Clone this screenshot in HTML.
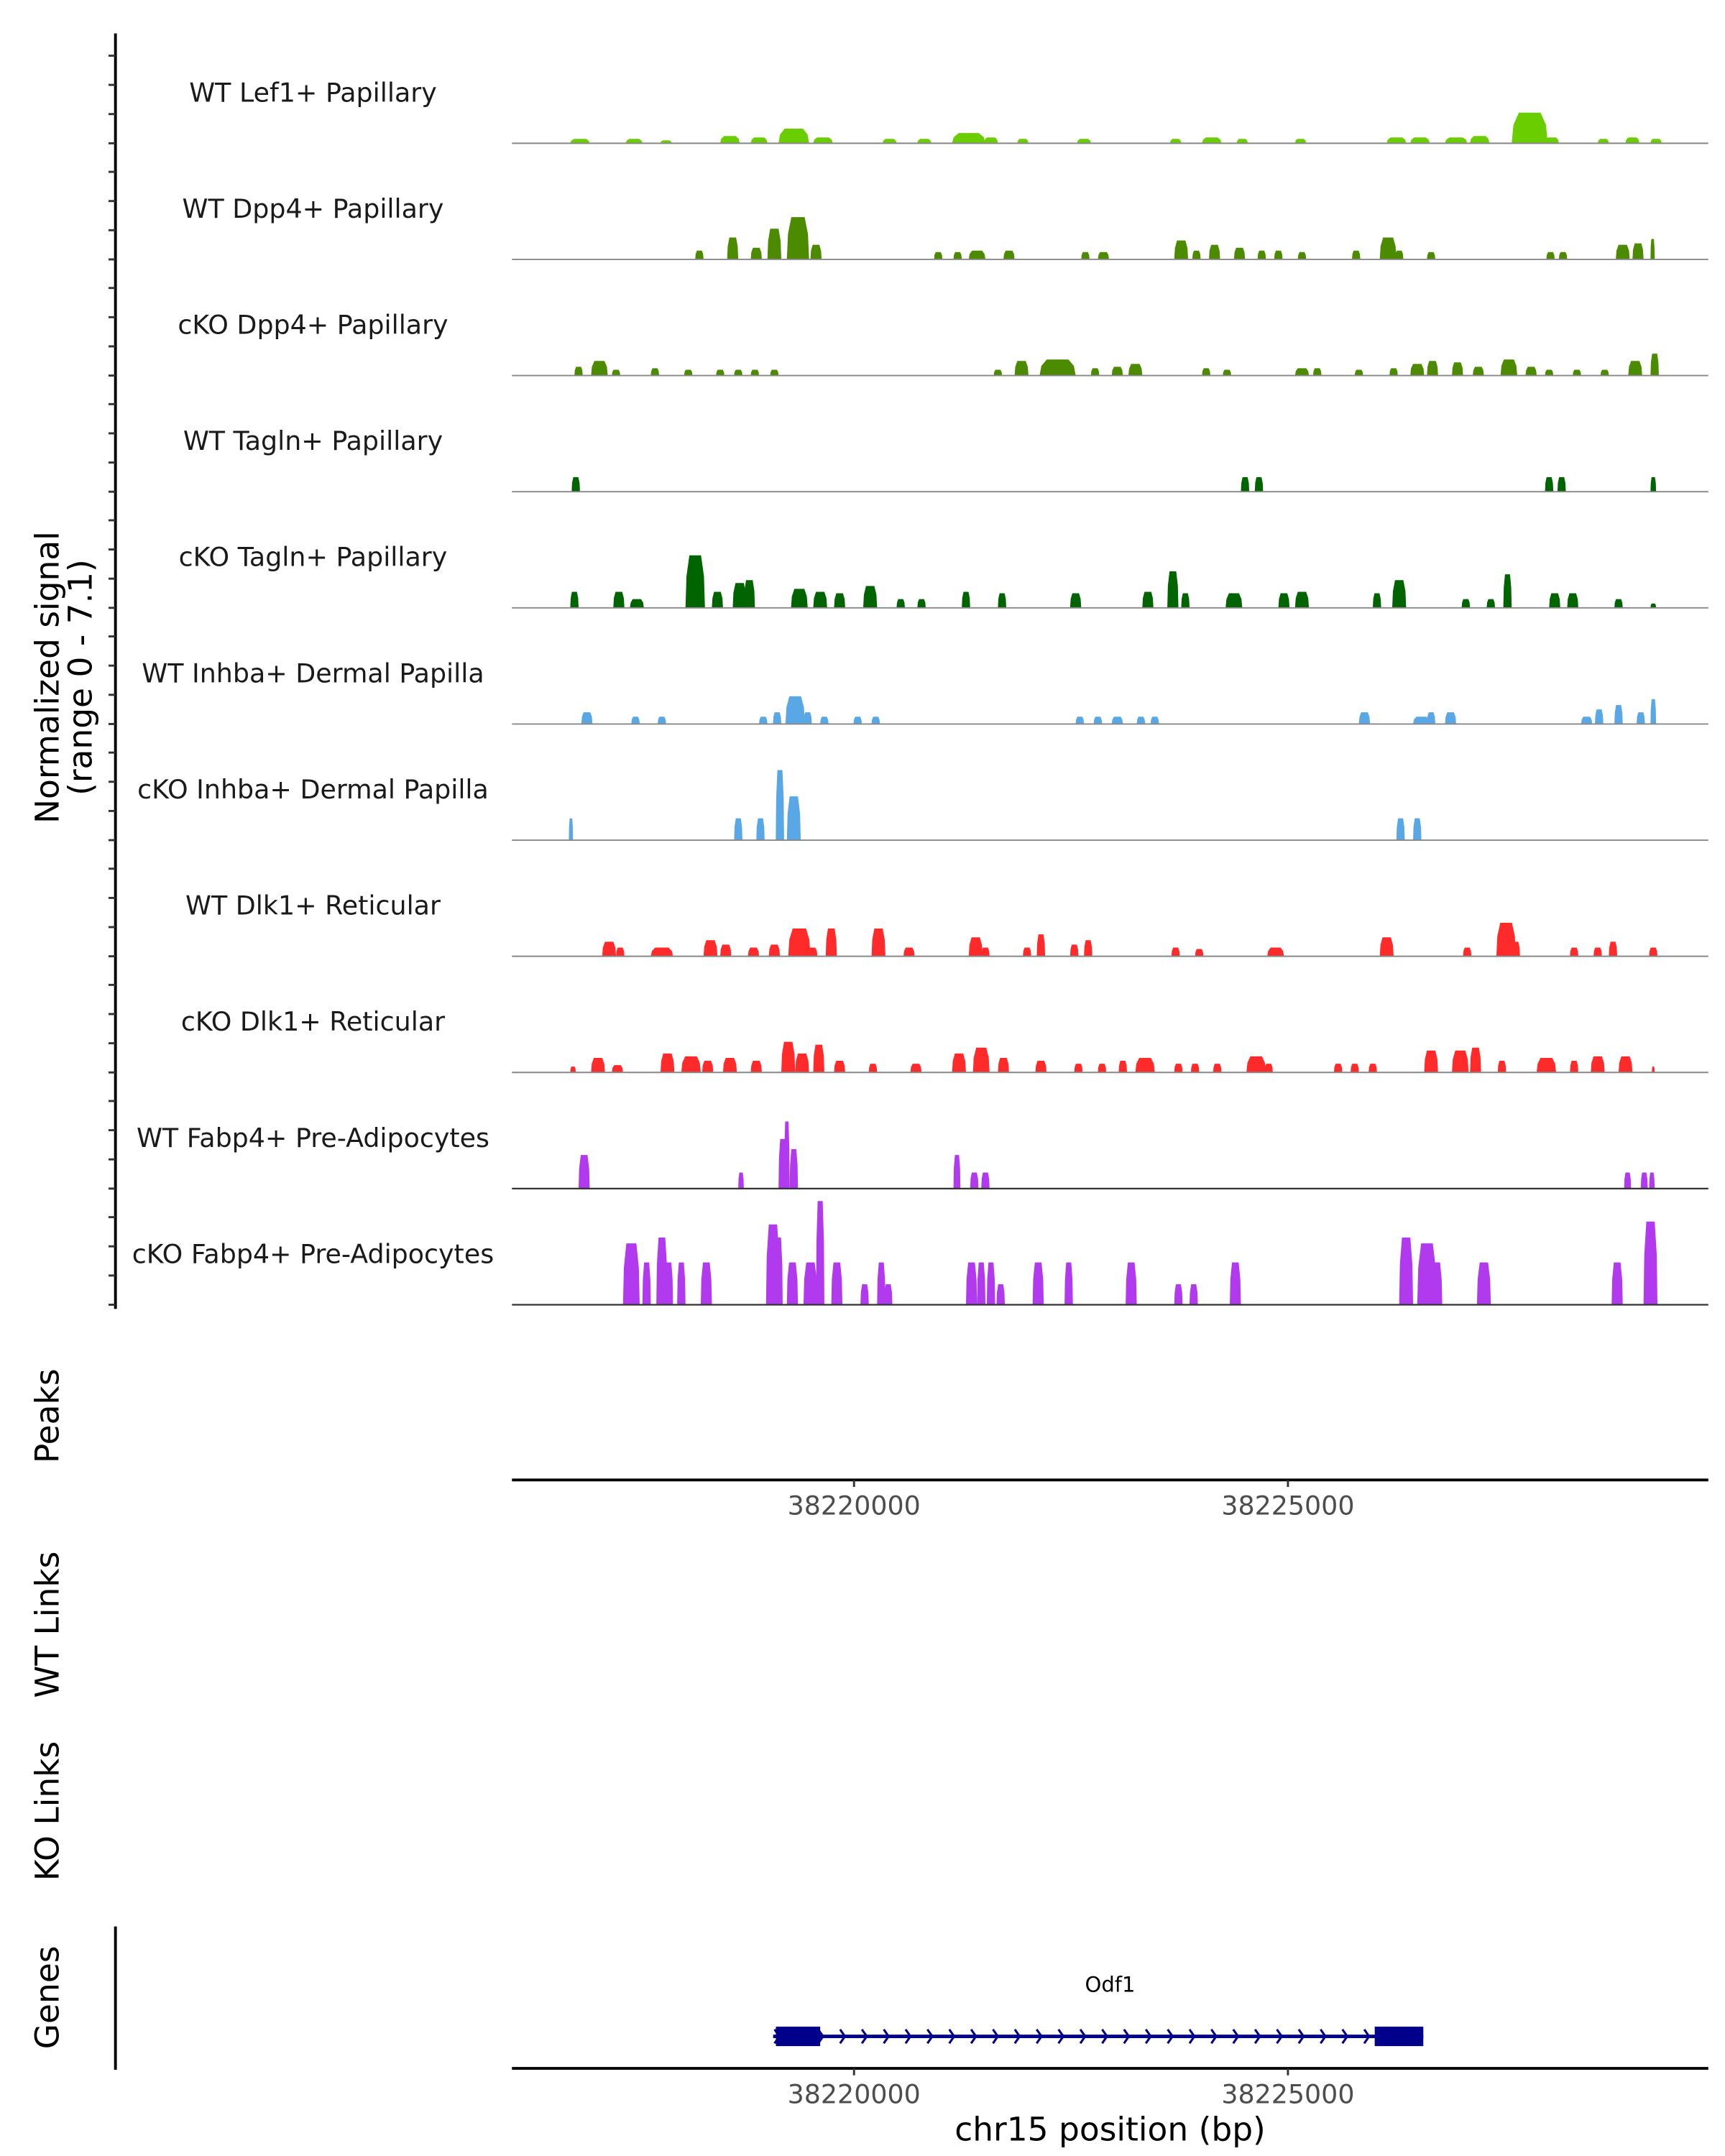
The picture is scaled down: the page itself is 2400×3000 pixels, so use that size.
<!DOCTYPE html>
<html><head><meta charset="utf-8">
<style>
html,body{margin:0;padding:0;background:#fff;}
svg{display:block;}
text{font-family:"DejaVu Sans","Liberation Sans",sans-serif;}
</style></head>
<body>
<svg id="chart" width="2400" height="3000" viewBox="0 0 1240 1550" preserveAspectRatio="none" xmlns="http://www.w3.org/2000/svg">
<rect x="0" y="0" width="1240" height="1550" fill="#fff"/>
<g id="tracks"></g>
<line x1="83" y1="24" x2="83" y2="941" stroke="#000" stroke-width="2"/>
<g id="yticks"></g>
<text transform="translate(42,487) rotate(-90)" text-anchor="middle" font-size="23.5" fill="#000">Normalized signal</text>
<text transform="translate(66,487) rotate(-90)" text-anchor="middle" font-size="23.5" fill="#000">(range 0 - 7.1)</text>
<text transform="translate(42,1018) rotate(-90)" text-anchor="middle" font-size="23.5" fill="#000">Peaks</text>
<text transform="translate(42,1168) rotate(-90)" text-anchor="middle" font-size="23.5" fill="#000">WT Links</text>
<text transform="translate(42,1302) rotate(-90)" text-anchor="middle" font-size="23.5" fill="#000">KO Links</text>
<text transform="translate(42,1436) rotate(-90)" text-anchor="middle" font-size="23.5" fill="#000">Genes</text>
<line x1="83" y1="1385" x2="83" y2="1488" stroke="#000" stroke-width="2"/>
<g id="axes"></g>
<g id="gene"></g>
<text x="798" y="1539" text-anchor="middle" font-size="23.5" fill="#000">chr15 position (bp)</text>
</svg>
<script>
const NS = "http://www.w3.org/2000/svg";
const regionStart = 38216058;
const regionEnd = 38229844;
const signalMax = 7.1;
const trackNames = ["WT Lef1+ Papillary","WT Dpp4+ Papillary","cKO Dpp4+ Papillary","WT Tagln+ Papillary","cKO Tagln+ Papillary","WT Inhba+ Dermal Papilla","cKO Inhba+ Dermal Papilla","WT Dlk1+ Reticular","cKO Dlk1+ Reticular","WT Fabp4+ Pre-Adipocytes","cKO Fabp4+ Pre-Adipocytes"];
const trackColors = ["#6ACD00","#4C8A00","#4C8A00","#006400","#006400","#5AA7E6","#5AA7E6","#FF2A2A","#FF2A2A","#B23AEE","#B23AEE"];
const xTicks = [38220000, 38225000];
const yTickValues = [0, 2, 4, 6];
// peaks: [offset from regionStart (bp), signal, width (bp)]
const lef1WT = [[672,0.3,224],[1312,0.3,192],[1712,0.2,128],[2400,0.5,224],[2752,0.4,192],[3072,1.0,352],[3472,0.4,224],[4272,0.3,160],[4672,0.3,160],[5072,0.7,384],[5440,0.4,160],[5824,0.3,128],[6512,0.3,160],[7584,0.3,128],[7952,0.4,224],[8352,0.3,128],[9024,0.3,128],[10080,0.4,224],[10352,0.4,224],[10752,0.4,256],[11040,0.5,224],[11520,2.1,416],[11904,0.4,160],[12512,0.3,128],[12832,0.4,160],[13120,0.3,128]];
const dpp4WT = [[2112,0.6,96],[2480,1.5,128],[2752,0.8,128],[2944,2.1,160],[3168,2.9,256],[3440,1.0,128],[4864,0.5,96],[5088,0.5,96],[5264,0.6,192],[5664,0.6,128],[6560,0.5,96],[6752,0.5,128],[7632,1.3,160],[7840,0.6,96],[8032,1.0,128],[8320,0.8,128],[8592,0.6,96],[8784,0.6,96],[9056,0.5,96],[9680,0.6,96],[10000,1.5,192],[10176,0.6,96],[10544,0.5,96],[11920,0.5,96],[12064,0.5,96],[12720,1.0,160],[12912,1.1,128],[13120,1.4,48]];
const dpp4KO = [[720,0.6,96],[912,1.0,192],[1152,0.4,96],[1600,0.5,96],[1984,0.4,96],[2352,0.4,96],[2560,0.4,96],[2752,0.4,96],[2976,0.4,96],[5552,0.4,96],[5792,1.0,160],[6080,1.1,416],[6352,0.8,128],[6672,0.5,96],[6912,0.6,128],[7104,0.8,160],[7952,0.5,96],[8192,0.4,96],[9024,0.5,160],[9232,0.5,96],[9712,0.4,96],[10112,0.5,96],[10352,0.8,160],[10544,1.0,128],[10832,0.9,128],[11072,0.6,128],[11392,1.1,192],[11680,0.6,128],[11904,0.4,96],[12224,0.4,96],[12544,0.4,96],[12864,1.0,160],[13120,1.5,96]];
const taglnWT = [[688,1.0,96],[8400,1.0,96],[8560,1.0,96],[11904,1.0,96],[12048,1.0,96],[13120,1.0,64]];
const taglnKO = [[672,1.1,96],[1168,1.1,128],[1360,0.6,160],[2000,3.6,224],[2304,1.1,128],[2544,1.7,160],[2672,1.9,128],[3216,1.3,192],[3472,1.1,160],[3712,1.0,128],[4048,1.5,160],[4432,0.6,96],[4672,0.6,96],[5184,1.1,96],[5600,1.0,96],[6432,1.0,128],[7264,1.1,128],[7552,2.5,128],[7712,1.0,96],[8224,1.0,192],[8832,1.0,128],[9024,1.1,160],[9920,1.0,96],[10144,1.9,160],[10944,0.6,96],[11232,0.6,96],[11424,2.3,96],[11952,1.0,128],[12160,1.0,128],[12704,0.6,96],[13120,0.3,64]];
const inhbaWT = [[800,0.8,128],[1376,0.5,96],[1680,0.5,96],[2848,0.5,96],[3008,0.8,96],[3152,1.9,224],[3360,0.8,96],[3552,0.5,96],[3936,0.5,96],[4144,0.5,96],[6496,0.5,96],[6704,0.5,96],[6912,0.5,128],[7200,0.5,96],[7360,0.5,96],[9760,0.8,128],[10384,0.5,192],[10544,0.8,96],[10752,0.8,128],[12320,0.5,128],[12480,1.0,96],[12704,1.3,96],[12960,0.8,96],[13120,1.7,64]];
const inhbaKO = [[656,1.5,48],[2560,1.5,96],[2816,1.5,96],[3040,4.8,96],[3168,3.0,160],[10192,1.5,96],[10384,1.5,96]];
const dlk1WT = [[1040,1.0,160],[1200,0.6,96],[1600,0.6,256],[2208,1.1,160],[2400,0.8,128],[2720,0.6,128],[2960,0.8,128],[3184,1.9,256],[3392,0.6,128],[3616,1.9,128],[4144,1.9,160],[4512,0.6,128],[5264,1.3,160],[5408,0.6,96],[5888,0.6,96],[6048,1.5,96],[6432,0.8,96],[6592,1.1,96],[7600,0.6,96],[7872,0.5,96],[8704,0.6,192],[10000,1.3,160],[10960,0.6,96],[11344,2.3,224],[11520,1.0,96],[12192,0.6,96],[12464,0.6,96],[12640,1.0,96],[13104,0.6,96]];
const dlk1KO = [[672,0.4,64],[912,1.0,160],[1152,0.5,128],[1712,1.3,160],[1952,1.1,224],[2192,0.8,128],[2432,1.0,160],[2752,0.8,128],[3104,2.1,160],[3264,1.3,160],[3472,1.9,128],[3712,0.8,128],[4112,0.6,96],[4592,0.6,128],[5072,1.3,160],[5312,1.7,192],[5600,1.0,128],[6032,0.8,128],[6480,0.6,96],[6752,0.6,96],[6992,0.8,96],[7184,1.0,224],[7632,0.6,96],[7824,0.6,96],[8080,0.6,96],[8464,1.1,224],[8672,0.6,96],[9472,0.6,96],[9664,0.6,96],[9872,0.6,96],[10512,1.5,160],[10832,1.5,192],[11040,1.7,128],[11360,0.8,96],[11808,1.0,224],[12192,0.8,96],[12432,1.1,160],[12752,1.1,160],[13136,0.4,32]];
const fabp4WT = [[768,2.3,128],[2608,1.1,64],[3072,3.4,96],[3136,4.6,64],[3200,2.7,96],[5088,2.3,80],[5280,1.1,96],[5408,1.1,96],[12816,1.1,80],[13008,1.1,80],[13104,1.1,64]];
const fabp4KO = [[1280,4.2,192],[1504,2.9,96],[1664,4.6,128],[1760,2.9,96],[1904,2.9,96],[2176,2.9,128],[2928,5.5,160],[3024,4.6,96],[3168,2.9,128],[3360,2.9,160],[3504,7.1,96],[3680,2.9,128],[4016,1.4,96],[4208,2.9,96],[4288,1.4,96],[5232,2.9,128],[5360,2.9,96],[5472,2.9,96],[5584,1.4,96],[6000,2.9,128],[6368,2.9,96],[7072,2.9,128],[7632,1.4,96],[7808,1.4,96],[8272,2.9,128],[10224,4.6,160],[10432,4.2,224],[10592,2.9,128],[11120,2.9,160],[12672,2.9,128],[13040,5.7,160]];
const geneStart = 38219100;
const geneEnd = 38226560;
const exons = [[38219100,38219610],[38226000,38226560]];
const geneName = "Odf1";

const trackData = [lef1WT,dpp4WT,dpp4KO,taglnWT,taglnKO,inhbaWT,inhbaKO,dlk1WT,dlk1KO,fabp4WT,fabp4KO];
const X0 = 368, X1 = 1228;
function xScale(bp){ return X0 + (bp - regionStart) / (regionEnd - regionStart) * (X1 - X0); }
const trackTop = 103, trackStep = 83.5, trackH = 74.5;
function yScale(i, v){ return trackTop + i*trackStep - v/signalMax*trackH; }

const tracks = document.getElementById('tracks');
const yticks = document.getElementById('yticks');
trackData.forEach((peaks, i) => {
  const base = yScale(i, 0);
  const g = document.createElementNS(NS,'g');
  
  
  tracks.appendChild(g);
  const lbl = document.createElementNS(NS,'text');
  
  
  lbl.setAttribute('x', 225); lbl.setAttribute('y', base - 30);
  lbl.setAttribute('text-anchor','middle'); lbl.setAttribute('font-size','18.8'); lbl.setAttribute('fill','#1a1a1a');
  lbl.textContent = trackNames[i];
  g.appendChild(lbl);
  peaks.forEach(p => {
    const s = regionStart + p[0], w = p[2], v = p[1];
    const xs = [0,0.05,0.2,0.8,0.95,1];
    const ys = [0,0.6,1,1,0.6,0];
    const pts = xs.map((f,k)=> xScale(s + f*w).toFixed(2) + ',' + yScale(i, v*ys[k]).toFixed(2)).join(' ');
    const poly = document.createElementNS(NS,'polygon');
    
    
    poly.setAttribute('points', pts);
    poly.setAttribute('fill', trackColors[i]);
    g.appendChild(poly);
  });
  const bl = document.createElementNS(NS,'line');
  
  
  bl.setAttribute('x1', X0); bl.setAttribute('x2', X1);
  bl.setAttribute('y1', base); bl.setAttribute('y2', base);
  bl.setAttribute('stroke', i >= 9 ? '#333' : '#888'); bl.setAttribute('stroke-width', i >= 9 ? '1.2' : '1');
  g.appendChild(bl);
  yTickValues.forEach(t => {
    const tk = document.createElementNS(NS,'line');
    
    
    const y = yScale(i, t);
    tk.setAttribute('x1', 78); tk.setAttribute('x2', 83);
    tk.setAttribute('y1', y); tk.setAttribute('y2', y);
    tk.setAttribute('stroke', '#333'); tk.setAttribute('stroke-width', '1.5');
    yticks.appendChild(tk);
  });
});

const axes = document.getElementById('axes');
[1064, 1487].forEach(ay => {
  const ln = document.createElementNS(NS,'line');
  
  
  ln.setAttribute('x1', X0); ln.setAttribute('x2', X1);
  ln.setAttribute('y1', ay); ln.setAttribute('y2', ay);
  ln.setAttribute('stroke', '#000'); ln.setAttribute('stroke-width', '2');
  axes.appendChild(ln);
  xTicks.forEach(t => {
    const x = xScale(t);
    const tk = document.createElementNS(NS,'line');
    
    
    tk.setAttribute('x1', x); tk.setAttribute('x2', x);
    tk.setAttribute('y1', ay); tk.setAttribute('y2', ay + 5);
    tk.setAttribute('stroke', '#333'); tk.setAttribute('stroke-width', '1.5');
    axes.appendChild(tk);
    const tl = document.createElementNS(NS,'text');
    
    
    tl.setAttribute('x', x); tl.setAttribute('y', ay + 25);
    tl.setAttribute('text-anchor', 'middle'); tl.setAttribute('font-size', '18.8'); tl.setAttribute('fill', '#4d4d4d');
    tl.textContent = String(t);
    axes.appendChild(tl);
  });
});

const gene = document.getElementById('gene');
const gy = 1464;
const gl = document.createElementNS(NS,'line');


gl.setAttribute('x1', xScale(geneStart) - 2); gl.setAttribute('x2', xScale(geneEnd));
gl.setAttribute('y1', gy); gl.setAttribute('y2', gy);
gl.setAttribute('stroke', '#00008B'); gl.setAttribute('stroke-width', '2.5');
gene.appendChild(gl);
for (let x = xScale(geneStart) - 1; x < xScale(geneEnd) - 8; x += 15.7) {
  const ch = document.createElementNS(NS,'polyline');
  
  
  ch.setAttribute('points', (x) + ',' + (gy-5) + ' ' + (x+3.5) + ',' + gy + ' ' + (x) + ',' + (gy+5));
  ch.setAttribute('fill', 'none'); ch.setAttribute('stroke', '#00008B'); ch.setAttribute('stroke-width', '1.6');
  gene.appendChild(ch);
}
exons.forEach(e => {
  const r = document.createElementNS(NS,'rect');
  
  
  r.setAttribute('x', xScale(e[0])); r.setAttribute('width', xScale(e[1]) - xScale(e[0]));
  r.setAttribute('y', gy - 7); r.setAttribute('height', 14);
  r.setAttribute('fill', '#00008B');
  gene.appendChild(r);
});
const gn = document.createElementNS(NS,'text');


gn.setAttribute('x', 798); gn.setAttribute('y', 1432);
gn.setAttribute('text-anchor', 'middle'); gn.setAttribute('font-size', '15'); gn.setAttribute('fill', '#000');
gn.textContent = geneName;
gene.appendChild(gn);
</script>
</body></html>
